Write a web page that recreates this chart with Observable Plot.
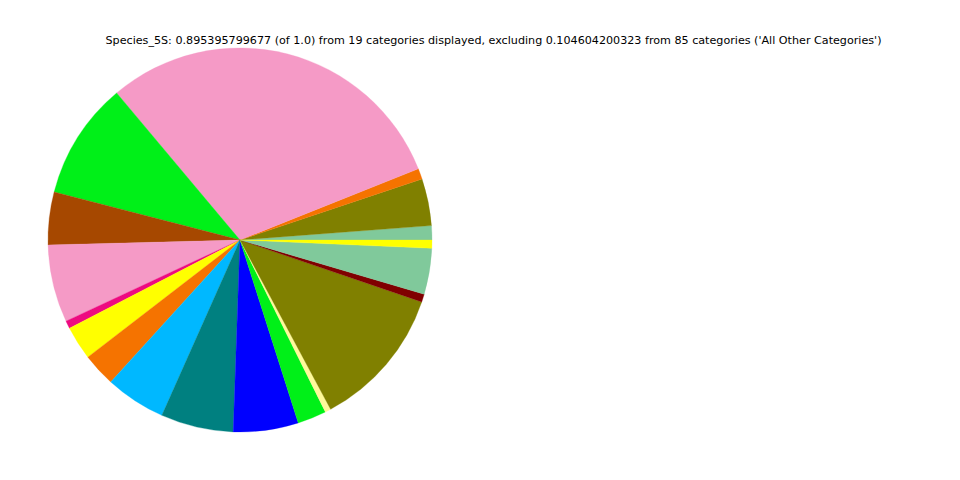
<!DOCTYPE html>
<html>
<head>
<meta charset="utf-8">
<script src="https://cdn.jsdelivr.net/npm/d3@7"></script>
<script src="https://cdn.jsdelivr.net/npm/@observablehq/plot@0.6"></script>
<style>
  html, body { margin: 0; padding: 0; background: #fff; }
</style>
</head>
<body>
<div id="chart"></div>
<script>
// Slices, in matplotlib order (counter-clockwise from 3 o'clock)
const categories = [
  "Category 1", "Category 2", "Category 3", "Category 4", "Category 5",
  "Category 6", "Category 7", "Category 8", "Category 9", "Category 10",
  "Category 11", "Category 12", "Category 13", "Category 14", "Category 15",
  "Category 16", "Category 17", "Category 18", "Category 19"
];
const shares = [
  0.0107, 0.0354, 0.0080, 0.2692, 0.0883,
  0.0398, 0.0585, 0.0058, 0.0255, 0.0251,
  0.0455, 0.0547, 0.0490, 0.0217, 0.0044,
  0.1070, 0.0060, 0.0346, 0.0062
];
const sliceColors = [
  "#80c99b", "#808000", "#f57300", "#f59ac6", "#00f018",
  "#a64800", "#f59ac6", "#ee0a80", "#ffff00", "#f57300",
  "#00b8ff", "#008080", "#0000ff", "#00f018", "#fff99a",
  "#808000", "#800000", "#80c99b", "#ffff00"
];
const titleText = "Species_5S: 0.895395799677 (of 1.0) from 19 categories displayed, excluding 0.104604200323 from 85 categories ('All Other Categories')";

const colorScale = Plot.scale({color: {type: "ordinal", domain: categories, range: sliceColors}});

function pieMark(index, scales, values, dimensions) {
  let cx, cy, r;
  if (scales && scales.x && scales.y) {
    cx = scales.x(0); cy = scales.y(0);
    r = Math.abs(scales.x(1) - scales.x(0));
  } else {
    cx = dimensions.height / 2; cy = dimensions.height / 2; r = dimensions.height * 0.4;
  }
  const arcs = d3.pie().sort(null)
    .startAngle(Math.PI / 2)
    .endAngle(Math.PI / 2 - 2 * Math.PI)(shares);
  const arc = d3.arc().innerRadius(0).outerRadius(r);
  const g = d3.create("svg:g").attr("transform", `translate(${cx},${cy})`);
  g.selectAll("path")
    .data(arcs)
    .join("path")
    .attr("d", arc)
    .attr("fill", (d, i) => colorScale.apply(categories[i]))
    .attr("stroke", (d, i) => colorScale.apply(categories[i]))
    .attr("stroke-width", 0.3);
  return g.node();
}

const chart = Plot.plot({
  width: 960,
  height: 480,
  margin: 0,
  style: {fontFamily: "DejaVu Sans", background: "#fff"},
  x: {domain: [-1.25, 3.75], axis: null},
  y: {domain: [-1.25, 1.25], axis: null},
  marks: [
    pieMark,
    Plot.text([titleText], {
      text: d => d,
      frameAnchor: "top",
      dx: 13,
      dy: 36,
      fontSize: 11.15,
      fill: "#000"
    })
  ]
});
document.getElementById("chart").appendChild(chart);
</script>
</body>
</html>
